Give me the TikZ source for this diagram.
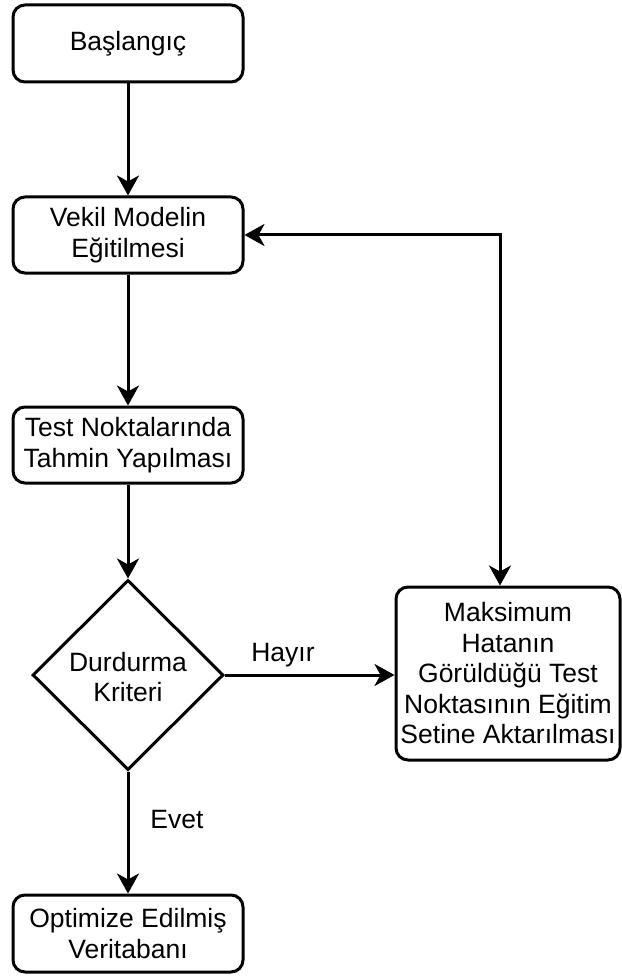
\documentclass[tikz,border=0pt]{standalone}
\usepackage{fontspec}
\setmainfont{Liberation Sans}
\usetikzlibrary{shapes.geometric,arrows.meta}
\begin{document}
\begin{tikzpicture}[x=1pt,y=-1pt,
  every node/.style={font=\fontsize{26.5}{30.5}\selectfont, text=black, align=center, inner sep=0pt},
  procbox/.style={draw=black, line width=3pt, rounded corners=12pt, fill=white},
  decbox/.style={draw=black, line width=3pt, diamond, fill=white},
  conn/.style={draw=black, line width=3pt, -{Stealth[length=20pt,width=22pt,inset=6pt]}},
  lbl/.style={font=\fontsize{26.5}{30}\selectfont}]
\useasboundingbox (0,0) rectangle (621,976);
\node[procbox, minimum width=230pt, minimum height=77pt] (start) at (128,43.5) {Başlangıç};
\node[procbox, minimum width=230pt, minimum height=76pt] (train) at (128,235) {Vekil Modelin\\Eğitilmesi};
\node[procbox, minimum width=230pt, minimum height=76pt] (pred) at (128,445) {Test Noktalarında\\Tahmin Yapılması};
\node[decbox, minimum width=191pt, minimum height=190pt] (crit) at (128,675) {};
\node at (128,677) (crittext) {Durdurma\\Kriteri};
\node[procbox, minimum width=224pt, minimum height=173pt] (maks) at (508,673.5) {Maksimum\\Hatanın\\Görüldüğü Test\\Noktasının Eğitim\\Setine Aktarılması};
\node[procbox, minimum width=230pt, minimum height=77pt] (opt) at (128,933.5) {Optimize Edilmiş\\Veritabanı};
\coordinate (corner) at (500,235);
\draw[conn] (start) -- (train);
\draw[conn] (train) -- (pred);
\draw[conn] (pred) -- (crit);
\draw[conn] (crit.east) -- (maks.west |- crit.east);
\draw[conn] (crit.south) -- (opt.north);
\draw[conn, {Stealth[length=20pt,width=22pt,inset=6pt]}-{Stealth[length=20pt,width=22pt,inset=6pt]}] (train.east) -- (corner) -- (maks.north -| corner);
\node[lbl] (hayir) at (283,655) {Hayır};
\node[lbl] (evet) at (177,820) {Evet};
\end{tikzpicture}
\end{document}
